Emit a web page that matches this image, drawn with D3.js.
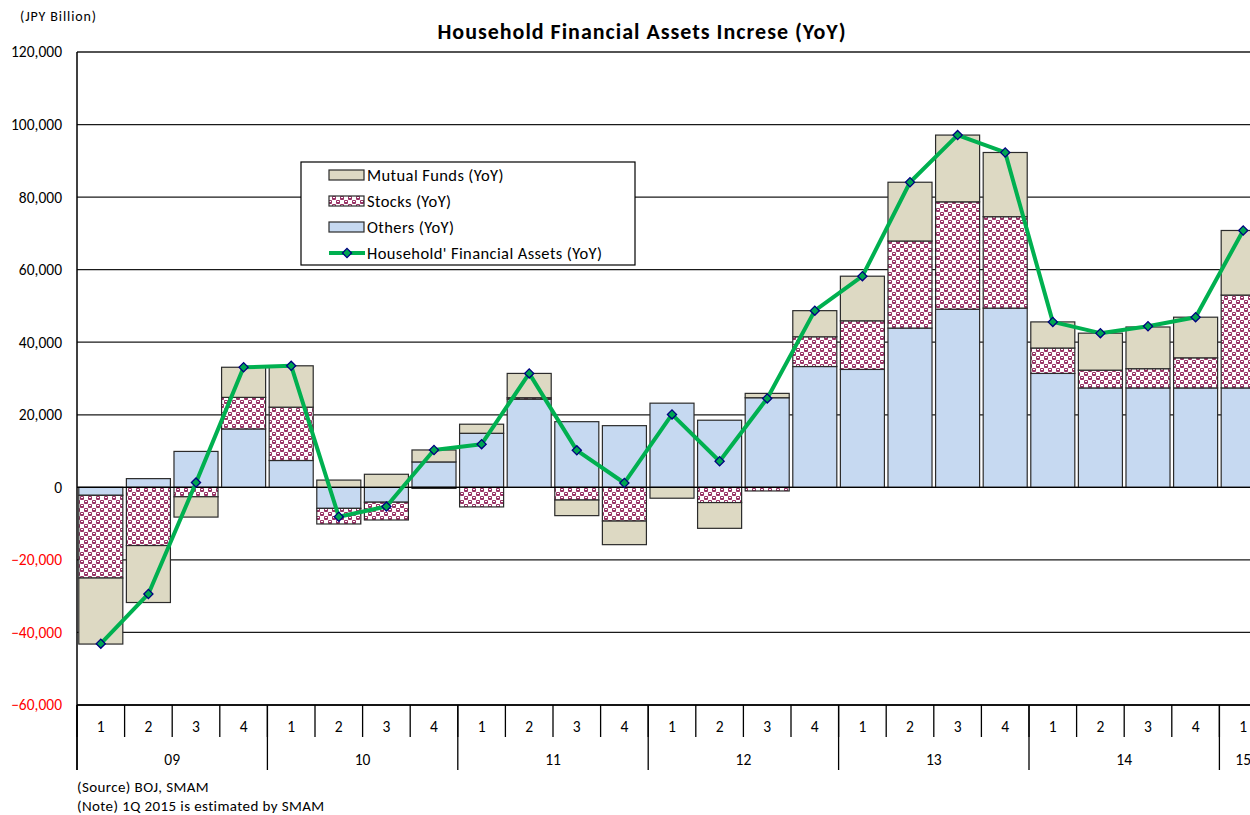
<!DOCTYPE html>
<html>
<head>
<meta charset="utf-8">
<script src="https://cdn.jsdelivr.net/npm/d3@7"></script>
<style>
  body { margin: 0; background: #fff; }
  svg { display: block; font-family: Carlito, "Open Sans", Lato, sans-serif; }
</style>
</head>
<body>
<svg id="chart" width="1250" height="815"></svg>
<script>
// quarters 2009Q1 .. 2015Q1 (JPY billion, YoY)
const quarters = ['1','2','3','4','1','2','3','4','1','2','3','4','1','2','3','4','1','2','3','4','1','2','3','4','1'];
const years = ['09', '10', '11', '12', '13', '14', '15'];
const yearSpans = [4, 4, 4, 4, 4, 4, 1];

const others = [-2200, 2400, 9900, 16100, 7400, -5800, -4100, 7000, 14900, 24300, 18100, 17000, 23200, 18500, 24700, 33300, 32500, 43900, 49100, 49400, 31400, 27400, 27400, 27400, 27400];
const stocks = [-22800, -16050, -2600, 8700, 14700, -4300, -4900, -300, -5400, 400, -3500, -9300, 0, -4200, -1000, 8200, 13400, 24000, 29600, 25200, 7000, 4900, 5300, 8300, 25600];
const mutualFunds = [-18200, -15700, -5600, 8300, 11400, 2000, 3600, 3300, 2500, 6700, -4300, -6500, -3000, -7100, 1200, 7200, 12300, 16200, 18400, 17700, 7200, 10200, 11500, 11200, 17800];
const totalAssets = [-43100, -29400, 1300, 33100, 33500, -8100, -5300, 10300, 11900, 31400, 10200, 1200, 20100, 7200, 24500, 48700, 58200, 84100, 97100, 92300, 45600, 42500, 44400, 46900, 70800];

const yTicks = [120000, 100000, 80000, 60000, 40000, 20000, 0, -20000, -40000, -60000];

const svg = d3.select('#chart');

// plot area (right side runs past the window, as in the source picture)
const plotLeft = 77, plotTop = 52, plotBottom = 705, step = 47.6;
const plotRight = plotLeft + quarters.length * step;

const x = d3.scaleBand()
  .domain(d3.range(quarters.length))
  .range([plotLeft, plotRight])
  .paddingInner(0.075)
  .paddingOuter(0.0375);

const y = d3.scaleLinear()
  .domain([-60000, 120000])
  .range([plotBottom, plotTop]);

// stocks pattern
const defs = svg.append('defs');
const pat = defs.append('pattern')
  .attr('id', 'stockPattern')
  .attr('width', 8).attr('height', 8)
  .attr('patternUnits', 'userSpaceOnUse');
pat.append('rect').attr('width', 8).attr('height', 8).attr('fill', '#fff');
pat.append('rect').attr('x', 0).attr('y', 0).attr('width', 4).attr('height', 4).attr('rx', 1).attr('fill', '#993366');
pat.append('rect').attr('x', 4).attr('y', 4).attr('width', 4).attr('height', 4).attr('rx', 1).attr('fill', '#993366');
pat.append('rect').attr('x', 1).attr('y', 1).attr('width', 2).attr('height', 1).attr('fill', '#fff');
pat.append('rect').attr('x', 5).attr('y', 5).attr('width', 2).attr('height', 1).attr('fill', '#fff');

// title and unit
svg.append('text')
  .attr('x', 642).attr('y', 39)
  .attr('text-anchor', 'middle')
  .style('font-size', '22px')
  .style('font-weight', 'bold')
  .style('letter-spacing', '1px')
  .text('Household Financial Assets Increse (YoY)');

svg.append('text')
  .attr('x', 20).attr('y', 21)
  .style('font-size', '14px')
  .style('letter-spacing', '0.9px')
  .text('(JPY Billion)');

// gridlines
svg.append('g')
  .selectAll('line')
  .data(yTicks)
  .enter().append('line')
  .attr('x1', plotLeft).attr('x2', plotRight)
  .attr('y1', d => y(d)).attr('y2', d => y(d))
  .attr('stroke', '#1a1a1a')
  .attr('stroke-width', 1.3);

// y labels
svg.append('g')
  .selectAll('text')
  .data(yTicks)
  .enter().append('text')
  .attr('x', 62)
  .attr('y', d => y(d))
  .attr('dy', '0.35em')
  .attr('text-anchor', 'end')
  .style('font-size', '15.5px')
  .style('fill', d => d < 0 ? '#ff0000' : '#000')
  .text(d => d3.format(',')(d));

// stacked bars
const table = quarters.map((q, i) => ({
  others: others[i], stocks: stocks[i], mutualFunds: mutualFunds[i]
}));
const keys = ['others', 'stocks', 'mutualFunds'];
const fills = { others: '#c6d9f1', stocks: 'url(#stockPattern)', mutualFunds: '#ddd9c3' };

const series = d3.stack()
  .keys(keys)
  .offset(d3.stackOffsetDiverging)(table);

svg.append('g')
  .selectAll('g')
  .data(series)
  .enter().append('g')
  .attr('fill', d => fills[d.key])
  .selectAll('rect')
  .data(d => d.map((v, i) => ({ v, i })).filter(d => d.v[1] !== d.v[0]))
  .enter().append('rect')
  .attr('x', d => x(d.i))
  .attr('width', x.bandwidth())
  .attr('y', d => y(Math.max(d.v[0], d.v[1])))
  .attr('height', d => Math.abs(y(d.v[0]) - y(d.v[1])))
  .attr('stroke', '#2b2b2b')
  .attr('stroke-width', 1.2);

// zero line over the bars' base
svg.append('line')
  .attr('x1', plotLeft).attr('x2', plotRight)
  .attr('y1', y(0)).attr('y2', y(0))
  .attr('stroke', '#000').attr('stroke-width', 1.3);

// left axis line
svg.append('line')
  .attr('x1', plotLeft).attr('x2', plotLeft)
  .attr('y1', plotTop).attr('y2', 770)
  .attr('stroke', '#000').attr('stroke-width', 1.5);

// category axis: quarter ticks and labels
const n = quarters.length;
const half = x.step() * x.paddingInner() / 2;
const boundary = i => i < n ? x(i) - half : x(n - 1) + x.bandwidth() + half;
const axisG = svg.append('g');
axisG.selectAll('line.q')
  .data(d3.range(n + 1))
  .enter().append('line')
  .attr('class', 'q')
  .attr('x1', d => boundary(d)).attr('x2', d => boundary(d))
  .attr('y1', plotBottom).attr('y2', 737)
  .attr('stroke', '#000').attr('stroke-width', 1.3);

axisG.selectAll('text.q')
  .data(quarters)
  .enter().append('text')
  .attr('class', 'q')
  .attr('x', (d, i) => x(i) + x.bandwidth() / 2)
  .attr('y', 727)
  .attr('dy', '0.35em')
  .attr('text-anchor', 'middle')
  .style('font-size', '15.5px')
  .text(d => d);

// year groups
let yStart = 0;
const yearInfo = years.map((yr, k) => {
  const o = { yr, start: yStart, end: yStart + yearSpans[k] };
  yStart += yearSpans[k];
  return o;
});

axisG.selectAll('line.y')
  .data(yearInfo)
  .enter().append('line')
  .attr('class', 'y')
  .attr('x1', d => boundary(d.start)).attr('x2', d => boundary(d.start))
  .attr('y1', plotBottom).attr('y2', 770)
  .attr('stroke', '#000').attr('stroke-width', 1.3);

axisG.selectAll('text.y')
  .data(yearInfo)
  .enter().append('text')
  .attr('class', 'y')
  .attr('x', d => (boundary(d.start) + boundary(d.end)) / 2)
  .attr('y', 760)
  .attr('dy', '0.35em')
  .attr('text-anchor', 'middle')
  .style('font-size', '15.5px')
  .text(d => d.yr);

// bottom axis line
svg.append('line')
  .attr('x1', plotLeft).attr('x2', plotRight)
  .attr('y1', plotBottom).attr('y2', plotBottom)
  .attr('stroke', '#000').attr('stroke-width', 1.5);

// total line + diamond markers
const line = d3.line()
  .x((d, i) => x(i) + x.bandwidth() / 2)
  .y(d => y(d));

svg.append('path')
  .datum(totalAssets)
  .attr('d', line)
  .attr('fill', 'none')
  .attr('stroke', '#00b050')
  .attr('stroke-width', 4)
  .attr('stroke-linejoin', 'round');

const diamond = d3.symbol().type(d3.symbolSquare).size(42);
svg.append('g')
  .selectAll('path')
  .data(totalAssets)
  .enter().append('path')
  .attr('d', diamond)
  .attr('transform', (d, i) => `translate(${x(i) + x.bandwidth() / 2},${y(d)}) rotate(45)`)
  .attr('fill', '#00a651')
  .attr('stroke', '#000080')
  .attr('stroke-width', 1.3);

// legend
const legend = svg.append('g');
legend.append('rect')
  .attr('x', 301).attr('y', 162)
  .attr('width', 334).attr('height', 103)
  .attr('fill', '#fff')
  .attr('stroke', '#000').attr('stroke-width', 1.2);

const legendItems = [
  { label: 'Mutual Funds (YoY)', fill: fills.mutualFunds, type: 'bar' },
  { label: 'Stocks (YoY)', fill: fills.stocks, type: 'bar' },
  { label: 'Others (YoY)', fill: fills.others, type: 'bar' },
  { label: "Household' Financial Assets (YoY)", type: 'line' }
];

legendItems.forEach((item, k) => {
  const cy = 175 + k * 26;
  if (item.type === 'bar') {
    legend.append('rect')
      .attr('x', 329).attr('y', cy - 5)
      .attr('width', 35).attr('height', 10)
      .attr('fill', item.fill)
      .attr('stroke', '#2b2b2b').attr('stroke-width', 1.2);
  } else {
    legend.append('line')
      .attr('x1', 329).attr('x2', 365)
      .attr('y1', cy).attr('y2', cy)
      .attr('stroke', '#00b050').attr('stroke-width', 4);
    legend.append('path')
      .attr('d', diamond)
      .attr('transform', `translate(347,${cy}) rotate(45)`)
      .attr('fill', '#00a651')
      .attr('stroke', '#000080')
      .attr('stroke-width', 1.3);
  }
  legend.append('text')
    .attr('x', 367).attr('y', cy)
    .attr('dy', '0.35em')
    .style('font-size', '16.5px')
    .style('letter-spacing', '0.4px')
    .text(item.label);
});

// notes
svg.append('text')
  .attr('x', 77).attr('y', 792)
  .style('font-size', '15px')
  .style('letter-spacing', '0.4px')
  .text('(Source) BOJ, SMAM');
svg.append('text')
  .attr('x', 77).attr('y', 811)
  .style('font-size', '15px')
  .style('letter-spacing', '0.4px')
  .text('(Note) 1Q 2015 is estimated by SMAM');
</script>
</body>
</html>
